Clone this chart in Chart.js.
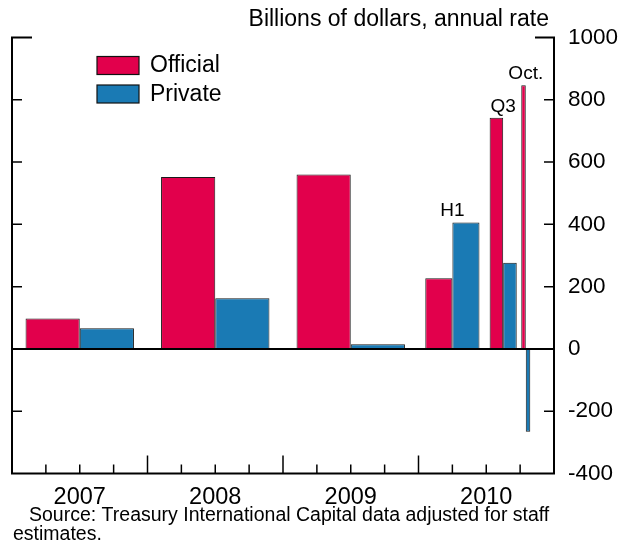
<!DOCTYPE html>
<html><head><meta charset="utf-8">
<script src="https://cdn.jsdelivr.net/npm/chart.js@4/dist/chart.umd.min.js"></script>
<style>html,body{margin:0;padding:0;background:#fff;} #wrap{width:634px;height:544px;position:relative;}</style>
</head><body><div id="wrap"><canvas id="c" width="634" height="544"></canvas></div>
<script>
// ---- data ----
const periodNotes = ['', '', '', 'H1', 'Q3', 'Oct.'];
const periodStart = [2007, 2008, 2009, 2010, 2010.5, 2010.75];
const periodEnd = [2008, 2009, 2010, 2010.5, 2010.75, 2010 + 10 / 12];
const officialValues = [98, 552, 560, 227, 742, 847];
const privateValues = [66, 163, 15, 406, 277, -266];
const yearLabels = ['2007', '2008', '2009', '2010'];
const seriesNames = ['Official', 'Private'];
const subtitleText = 'Billions of dollars, annual rate';
const sourceLines = ['Source: Treasury International Capital data adjusted for staff', 'estimates.'];

const FONT = "'Liberation Sans', Arial, sans-serif";
const RED = '#E2004C';
const BLUE = '#1A7AB4';

function barPoints(values, side) {
  return values.map((v, i) => {
    const len = periodEnd[i] - periodStart[i];
    return { x: periodStart[i] + (side === 0 ? 0.3 : 0.7) * len, y: v };
  });
}

const barWidthPlugin = {
  id: 'barWidth',
  beforeDatasetsDraw(chart) {
    const xs = chart.scales.x;
    chart.data.datasets.forEach((ds, di) => {
      const meta = chart.getDatasetMeta(di);
      meta.data.forEach((el, i) => {
        const len = periodEnd[i] - periodStart[i];
        el.width = xs.getPixelForValue(periodStart[i] + 0.4 * len) - xs.getPixelForValue(periodStart[i]);
      });
    });
  }
};

const framePlugin = {
  id: 'frame',
  afterDraw(chart) {
    const { ctx, chartArea: { left, right, top, bottom }, scales: { x, y } } = chart;
    ctx.save();
    ctx.strokeStyle = '#000';
    ctx.lineWidth = 2;
    ctx.beginPath();
    ctx.moveTo(left + 20, top); ctx.lineTo(left, top); ctx.lineTo(left, bottom);
    ctx.lineTo(right, bottom); ctx.lineTo(right, top); ctx.lineTo(right - 19, top);
    ctx.stroke();
    // zero line
    const y0 = y.getPixelForValue(0);
    ctx.beginPath(); ctx.moveTo(left, y0); ctx.lineTo(right, y0); ctx.stroke();
    // y ticks on both sides
    ctx.lineWidth = 1.5;
    y.ticks.forEach(t => {
      if (t.value === y.min || t.value === y.max) return;
      const py = y.getPixelForValue(t.value);
      ctx.beginPath();
      ctx.moveTo(left, py); ctx.lineTo(left + 10, py);
      ctx.moveTo(right - 10, py); ctx.lineTo(right, py);
      ctx.stroke();
    });
    // x ticks (quarters, years taller)
    for (let k = 1; k < (x.max - x.min) * 4; k++) {
      const v = x.min + k * 0.25;
      const px = x.getPixelForValue(v);
      const len = (k % 4 === 0) ? 18 : 9;
      ctx.beginPath(); ctx.moveTo(px, bottom); ctx.lineTo(px, bottom - len); ctx.stroke();
    }
    // period notes
    ctx.fillStyle = '#000';
    ctx.font = '19px ' + FONT;
    ctx.textAlign = 'center';
    ctx.textBaseline = 'alphabetic';
    periodNotes.forEach((n, i) => {
      if (!n) return;
      const cx = x.getPixelForValue((periodStart[i] + periodEnd[i]) / 2);
      const topVal = Math.max(officialValues[i], privateValues[i], 0);
      const py = y.getPixelForValue(topVal);
      ctx.fillText(n, cx, py - 6);
    });
    // legend
    ctx.font = '23px ' + FONT;
    ctx.textAlign = 'left';
    ctx.textBaseline = 'middle';
    chart.data.datasets.forEach((ds, i) => {
      const bx = left + 85, by = top + 19 + i * 28.5;
      ctx.fillStyle = ds.backgroundColor;
      ctx.fillRect(bx, by, 42, 18);
      ctx.lineWidth = 1.2;
      ctx.strokeStyle = '#111';
      ctx.strokeRect(bx, by, 42, 18);
      ctx.fillStyle = '#000';
      ctx.fillText(ds.label, bx + 53, by + 9.5);
    });
    // subtitle
    ctx.font = '23px ' + FONT;
    ctx.textAlign = 'right';
    ctx.textBaseline = 'alphabetic';
    ctx.fillText(subtitleText, right - 5, 26);
    // source
    ctx.font = '19.5px ' + FONT;
    ctx.textAlign = 'left';
    ctx.fillText(sourceLines[0], 29, 521);
    ctx.fillText(sourceLines[1], 13, 540);
    ctx.restore();
  }
};

new Chart(document.getElementById('c'), {
  type: 'bar',
  data: {
    datasets: [
      { label: seriesNames[0], data: barPoints(officialValues, 0), backgroundColor: RED, borderColor: '#1a1a1a', borderWidth: 1 },
      { label: seriesNames[1], data: barPoints(privateValues, 1), backgroundColor: BLUE, borderColor: '#1a1a1a', borderWidth: 1 }
    ]
  },
  options: {
    responsive: false,
    animation: false,
    events: [],
    layout: { padding: { left: 12, right: 0, top: 37.5, bottom: 24 } },
    datasets: { bar: { grouped: false } },
    plugins: { legend: { display: false }, tooltip: { enabled: false }, title: { display: false } },
    scales: {
      x: {
        type: 'linear', min: 2007, max: 2011, offset: false,
        grid: { display: false, drawTicks: false },
        border: { display: false },
        ticks: {
          stepSize: 0.5, autoSkip: false, maxRotation: 0, padding: 10,
          color: '#000', font: { family: FONT, size: 23.5 },
          callback: (v) => {
            const f = v - Math.floor(v);
            return Math.abs(f - 0.5) < 1e-6 ? yearLabels[Math.floor(v) - 2007] : '';
          }
        },
        afterFit: (s) => { s.height = 46.5; }
      },
      y: {
        position: 'right', min: -400, max: 1000,
        grid: { display: false, drawTicks: false },
        border: { display: false },
        ticks: { stepSize: 200, padding: 14, color: '#000', font: { family: FONT, size: 22.5 }, callback: (v) => String(v) },
        afterFit: (s) => { s.width = 80; }
      }
    }
  },
  plugins: [barWidthPlugin, framePlugin]
});
</script></body></html>
